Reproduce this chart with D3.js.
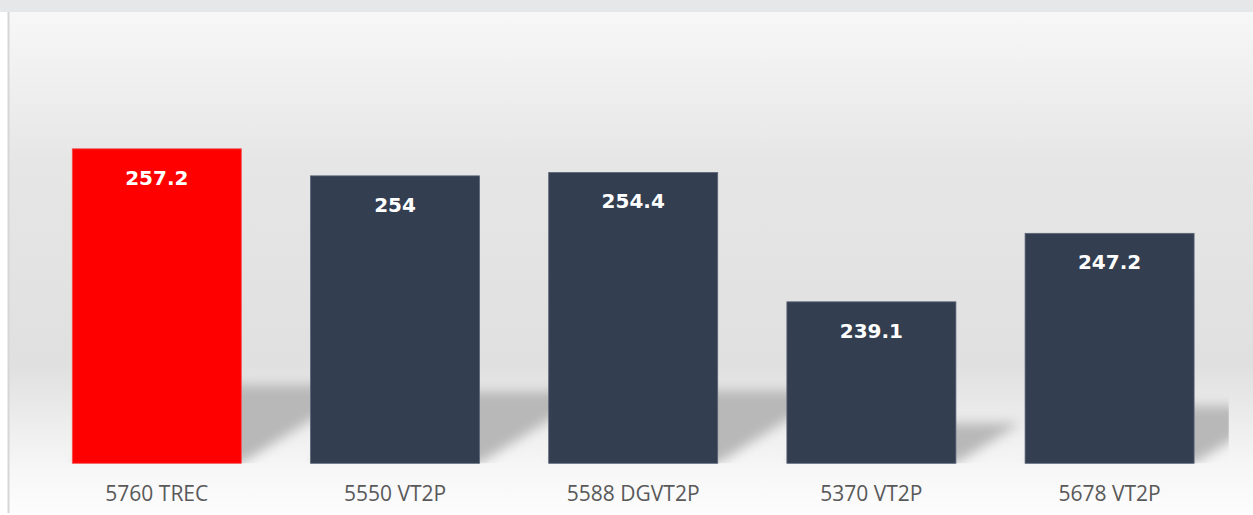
<!DOCTYPE html>
<html>
<head>
<meta charset="utf-8">
<script src="https://cdn.jsdelivr.net/npm/d3@7"></script>
<style>
  html, body { margin: 0; padding: 0; background: #ffffff; }
  svg { display: block; }
</style>
</head>
<body>
<div id="chart"></div>
<script>
let categories = ['5760 TREC', '5550 VT2P', '5588 DGVT2P', '5370 VT2P', '5678 VT2P'];
let values = [257.2, 254, 254.4, 239.1, 247.2];
let barColors = ['#ff0000', '#333e50', '#333e50', '#333e50', '#333e50'];
let yDomain = [220, 270];

let width = 1253;
let height = 515;
let plot = { left: 37.7, right: 1228.7, top: 40.6, bottom: 463.3 };

let svg = d3.select('#chart').append('svg')
            .attr('width', width)
            .attr('height', height);

let defs = svg.append('defs');

// background gradient of the chart panel
let grad = defs.append('linearGradient')
               .attr('id', 'bg-grad')
               .attr('x1', 0).attr('y1', 0)
               .attr('x2', 0).attr('y2', 1);
[[0, '#f7f7f7'], [0.3, '#e6e6e6'], [0.7, '#e0e0e0'], [0.9, '#f6f6f6'], [1, '#fdfdfd']]
  .forEach(s => grad.append('stop').attr('offset', s[0]).attr('stop-color', s[1]));

defs.append('filter')
    .attr('id', 'shadow-blur')
    .attr('x', '-50%').attr('y', '-50%')
    .attr('width', '200%').attr('height', '200%')
    .append('feGaussianBlur')
    .attr('stdDeviation', 6);

defs.append('clipPath')
    .attr('id', 'plot-clip')
    .append('rect')
    .attr('x', plot.left)
    .attr('y', plot.top - 40)
    .attr('width', plot.right - plot.left)
    .attr('height', plot.bottom - plot.top + 40);

// top band + panel
svg.append('rect')
   .attr('x', 0).attr('y', 0)
   .attr('width', width).attr('height', 12)
   .attr('fill', '#e6e7e9');
svg.append('rect')
   .attr('x', 8).attr('y', 12)
   .attr('width', width - 8).attr('height', height - 12)
   .attr('fill', 'url(#bg-grad)');
svg.append('line')
   .attr('x1', 8.5).attr('x2', 8.5)
   .attr('y1', 12).attr('y2', height - 2)
   .attr('stroke', '#d6d6d6')
   .attr('stroke-width', 2);

let xScale = d3.scaleBand()
               .domain(categories)
               .range([plot.left, plot.right])
               .paddingInner(0.2905)
               .paddingOuter(0.1453);
let yScale = d3.scaleLinear()
               .domain(yDomain)
               .range([plot.bottom, plot.top]);

let data = categories.map((c, i) => ({ name: c, value: values[i], color: barColors[i] }));

// perspective shadows behind the bars
svg.append('g')
   .attr('clip-path', 'url(#plot-clip)')
   .selectAll('polygon')
   .data(data)
   .enter()
   .append('polygon')
   .attr('points', d => {
     let x0 = xScale(d.name);
     let x1 = x0 + xScale.bandwidth();
     let h = yScale(yDomain[0]) - yScale(d.value);
     let sh = h * 0.25;
     let dx = sh * 1.6;
     let yb = yScale(yDomain[0]);
     return [[x0, yb], [x1, yb], [x1 + dx, yb - sh], [x0 + dx, yb - sh]].map(p => p.join(',')).join(' ');
   })
   .attr('fill', '#b8b8b8')
   .attr('filter', 'url(#shadow-blur)');

// bars
svg.selectAll('rect.bar')
   .data(data)
   .enter()
   .append('rect')
   .attr('class', 'bar')
   .attr('x', d => xScale(d.name))
   .attr('y', d => yScale(d.value))
   .attr('width', xScale.bandwidth())
   .attr('height', d => yScale(yDomain[0]) - yScale(d.value))
   .attr('fill', d => d.color)
   .attr('stroke', d => d.color === '#ff0000' ? '#f25050' : '#5a6477')
   .attr('stroke-width', 0.8);

// value labels
svg.selectAll('text.value')
   .data(data)
   .enter()
   .append('text')
   .attr('class', 'value')
   .attr('x', d => xScale(d.name) + xScale.bandwidth() / 2)
   .attr('y', d => yScale(d.value) + 36)
   .attr('text-anchor', 'middle')
   .style('font-family', '"DejaVu Sans", sans-serif')
   .style('font-weight', 'bold')
   .style('font-size', '20px')
   .style('fill', '#ffffff')
   .text(d => d.value);

// category axis labels
svg.selectAll('text.cat')
   .data(data)
   .enter()
   .append('text')
   .attr('class', 'cat')
   .attr('x', d => xScale(d.name) + xScale.bandwidth() / 2)
   .attr('y', 500.5)
   .attr('text-anchor', 'middle')
   .style('font-family', '"Open Sans", sans-serif')
   .style('font-size', '21px')
   .style('fill', '#595959')
   .text(d => d.name);
</script>
</body>
</html>
